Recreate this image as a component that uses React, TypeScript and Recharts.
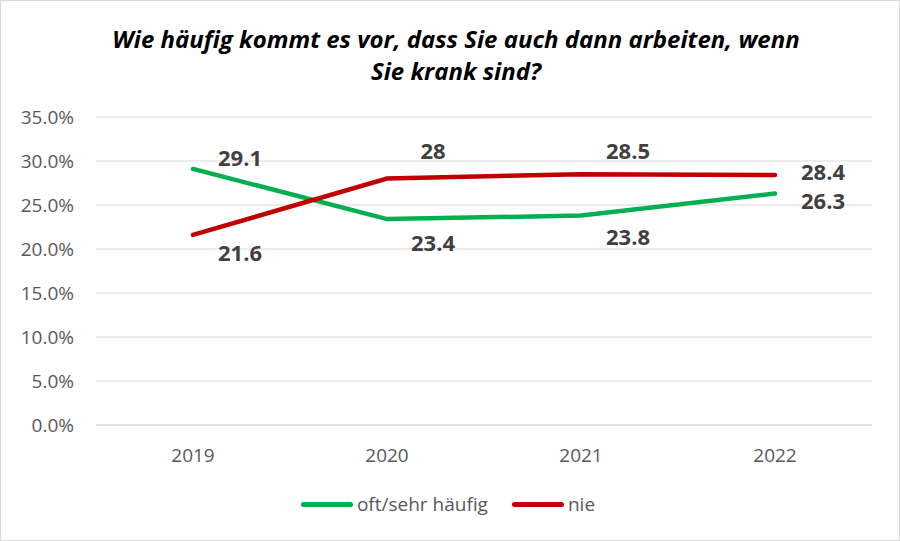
import React from 'react';
import { LineChart, Line, XAxis, YAxis, CartesianGrid, Legend } from 'recharts';

const years = ['2019', '2020', '2021', '2022'];
const oftHaeufig = [29.1, 23.4, 23.8, 26.3];
const nie = [21.6, 28, 28.5, 28.4];
const yTicks = [0, 5, 10, 15, 20, 25, 30, 35];

const data = years.map((year, i) => ({
  year,
  'oft/sehr häufig': oftHaeufig[i],
  nie: nie[i],
}));

const FONT = '"Open Sans", "Liberation Sans", sans-serif';
const GREEN = '#00b050';
const RED = '#c00000';

// label offsets (px) from each point, per series
const greenOffsets = [
  { dx: 47, dy: -12 },
  { dx: 46, dy: 23 },
  { dx: 47, dy: 20 },
  { dx: 48, dy: 6 },
];
const redOffsets = [
  { dx: 47, dy: 17 },
  { dx: 46, dy: -29 },
  { dx: 47, dy: -24 },
  { dx: 48, dy: -4 },
];

const makeLabel = (offsets: { dx: number; dy: number }[]) => (props: any) => {
  const { x, y, value, index } = props;
  const o = offsets[index];
  return (
    <text
      x={x + o.dx}
      y={y + o.dy}
      textAnchor="middle"
      dominantBaseline="central"
      fill="#404040"
      fontSize={22}
      fontWeight="bold"
      fontFamily={FONT}
    >
      {value}
    </text>
  );
};

const LegendContent = () => (
  <div style={{ display: 'flex', justifyContent: 'center', alignItems: 'center', fontFamily: FONT, fontSize: 19, color: '#595959', paddingLeft: 24 }}>
    {[
      { name: 'oft/sehr häufig', color: GREEN },
      { name: 'nie', color: RED },
    ].map((item) => (
      <div key={item.name} style={{ display: 'flex', alignItems: 'center', margin: '0 12px' }}>
        <span style={{ display: 'inline-block', width: 52, height: 5, borderRadius: 3, background: item.color, marginRight: 4 }} />
        <span>{item.name}</span>
      </div>
    ))}
  </div>
);

const App: React.FC = () => {
  return (
    <div
      style={{
        position: 'absolute',
        left: 0,
        top: 0,
        width: 900,
        height: 541,
        background: '#fff',
        boxSizing: 'border-box',
        border: '1px solid #d9d9d9',
      }}
    >
      <div
        style={{
          position: 'absolute',
          left: 10,
          top: 22,
          width: 890,
          textAlign: 'center',
          fontFamily: FONT,
          fontStyle: 'italic',
          fontWeight: 'bold',
          fontSize: 24,
          lineHeight: '32px',
          color: '#000',
        }}
      >
        Wie häufig kommt es vor, dass Sie auch dann arbeiten, wenn
        <br />
        Sie krank sind?
      </div>
      <div style={{ position: 'absolute', left: -1, top: -1 }}>
        <LineChart width={900} height={541} data={data} margin={{ top: 117, right: 28, left: 0, bottom: 24 }}>
          <CartesianGrid vertical={false} stroke="#d9d9d9" />
          <XAxis
            dataKey="year"
            padding={{ left: 97, right: 97 }}
            axisLine={{ stroke: '#d9d9d9' }}
            tickLine={false}
            height={66}
            tickMargin={18}
            tick={{ fill: '#595959', fontSize: 19, fontFamily: FONT }}
          />
          <YAxis
            domain={[0, 35]}
            ticks={yTicks}
            width={96}
            axisLine={false}
            tickLine={false}
            tickMargin={16}
            tickFormatter={(v: number) => `${v.toFixed(1)}%`}
            tick={{ fill: '#595959', fontSize: 19, fontFamily: FONT }}
          />
          <Legend verticalAlign="bottom" content={<LegendContent />} />
          <Line
            type="linear"
            dataKey="oft/sehr häufig"
            stroke={GREEN}
            strokeWidth={4.5}
            strokeLinecap="round"
            dot={false}
            isAnimationActive={false}
            label={makeLabel(greenOffsets)}
          />
          <Line
            type="linear"
            dataKey="nie"
            stroke={RED}
            strokeWidth={4.5}
            strokeLinecap="round"
            dot={false}
            isAnimationActive={false}
            label={makeLabel(redOffsets)}
          />
        </LineChart>
      </div>
    </div>
  );
};

export default App;
